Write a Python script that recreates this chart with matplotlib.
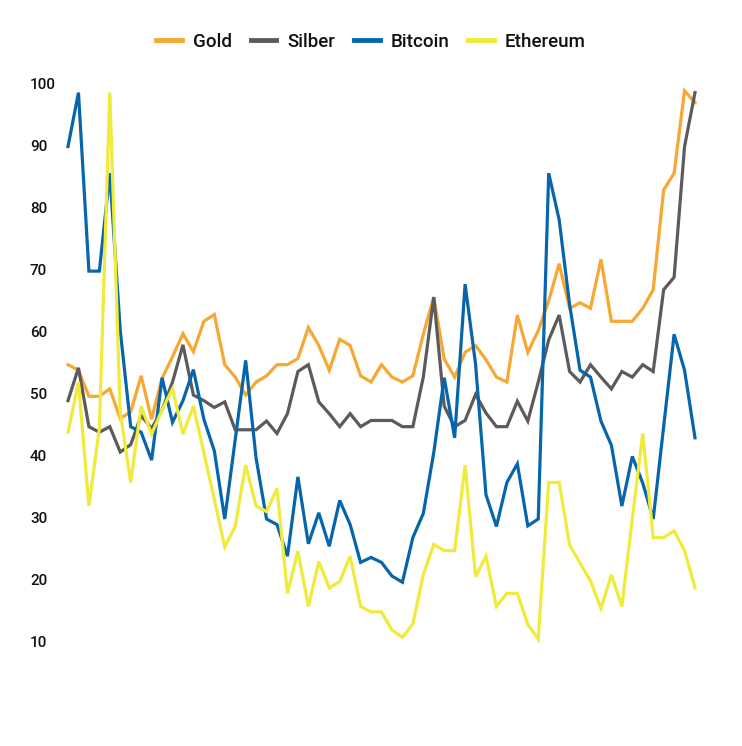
import matplotlib
matplotlib.use("Agg")
import matplotlib.pyplot as plt
import numpy as np

plt.rcParams['font.family'] = ['Roboto', 'DejaVu Sans']

series_names = ["Gold", "Silber", "Bitcoin", "Ethereum"]
series_colors = ["#F5A834", "#5E5A5B", "#0665AB", "#F0EA3A"]

gold = [54.7, 53.8, 49.6, 49.6, 50.8, 46.0, 47.1, 52.9, 45.9, 52.5, 56.0, 59.7, 56.8, 61.7, 62.8, 54.7, 52.7, 49.8, 51.9, 52.9, 54.7,
        54.7, 55.7, 60.7, 57.8, 53.8, 58.8, 57.8, 52.9, 51.9, 54.7, 52.7, 51.9, 52.9, 59.6, 65.6, 55.6, 52.7, 56.7, 57.8, 55.5, 52.7,
        51.9, 62.7, 56.7, 60.2, 65.0, 71.0, 63.8, 64.7, 63.8, 71.7, 61.7, 61.7, 61.7, 63.8, 66.8, 82.9, 85.6, 98.9, 97.0]
silber = [48.9, 54.2, 44.7, 43.8, 44.7, 40.6, 41.8, 46.5, 44.4, 47.4, 51.9, 57.9, 49.8, 48.9, 47.8, 48.7, 44.2, 44.2, 44.2, 45.6, 43.6,
          46.8, 53.6, 54.7, 48.7, 46.8, 44.7, 46.8, 44.7, 45.7, 45.7, 45.7, 44.7, 44.7, 52.7, 65.6, 48.0, 44.7, 45.7, 49.9, 46.9, 44.7,
          44.7, 48.8, 45.6, 51.9, 58.7, 62.7, 53.6, 51.9, 54.7, 52.7, 50.8, 53.6, 52.7, 54.7, 53.6, 66.8, 68.8, 89.9, 98.6]
bitcoin = [89.9, 98.6, 69.8, 69.8, 85.6, 60.2, 44.7, 43.8, 39.3, 52.6, 45.4, 48.9, 53.9, 45.9, 40.8, 29.8, 42.6, 55.4, 39.6, 29.8, 28.9,
           23.8, 36.6, 25.8, 30.8, 25.4, 32.8, 28.9, 22.8, 23.6, 22.8, 20.6, 19.6, 26.8, 30.7, 40.5, 52.6, 42.9, 67.7, 54.8, 33.7, 28.6,
           35.7, 38.7, 28.7, 29.8, 85.6, 78.1, 64.4, 53.8, 52.7, 45.6, 41.7, 31.9, 39.9, 35.6, 29.8, 44.7, 59.6, 53.8, 42.9]
ethereum = [43.8, 51.9, 31.9, 44.4, 98.6, 47.0, 35.7, 48.0, 43.5, 47.4, 50.8, 43.5, 48.0, 40.5, 33.0, 25.3, 28.6, 38.5, 31.9, 31.0, 34.7,
            17.8, 24.6, 15.7, 22.9, 18.7, 19.7, 23.8, 15.7, 14.8, 14.8, 11.9, 10.7, 12.9, 20.8, 25.7, 24.7, 24.7, 38.5, 20.5, 23.8, 15.7,
            17.8, 17.8, 12.8, 10.4, 35.7, 35.7, 25.6, 22.7, 19.8, 15.4, 20.8, 15.7, 29.8, 43.6, 26.8, 26.8, 27.9, 24.7, 18.7]

y_ticks = [10, 20, 30, 40, 50, 60, 70, 80, 90, 100]

W, H = 742, 746
fig = plt.figure(figsize=(W / 100, H / 100), dpi=100)
L, R, T, B = 60, 703, 70, 660
ax = fig.add_axes([L / W, 1 - B / H, (R - L) / W, (B - T) / H])

x = np.arange(len(gold))
for data, name, col in zip([gold, silber, bitcoin, ethereum], series_names, series_colors):
    ax.plot(x, data, color=col, lw=2.3, label=name, solid_joinstyle='miter')

ax.set_xlim(-0.766, 60.766)
ax.set_ylim(7.05, 102.25)
ax.set_xticks([])
ax.set_yticks(y_ticks)
ax.set_yticklabels([str(t) for t in y_ticks])
ax.tick_params(axis='y', length=0, pad=21.6, labelsize=11, labelcolor='#111111')
for lab in ax.get_yticklabels():
    lab.set_horizontalalignment('left')
    lab.set_fontweight('medium')
for s in ax.spines.values():
    s.set_visible(False)

handles, labels = ax.get_legend_handles_labels()
leg = fig.legend(handles, labels, loc='center', bbox_to_anchor=(0.5, 1 - 41.7 / H), ncol=4,
                 frameon=False, prop={'size': 13.5, 'weight': 'medium'},
                 handlelength=1.38, handletextpad=0.58, columnspacing=1.0)
for line in leg.get_lines():
    line.set_linewidth(3.5)
for t in leg.get_texts():
    t.set_color('#111111')

fig.savefig("out.png", dpi=100)
